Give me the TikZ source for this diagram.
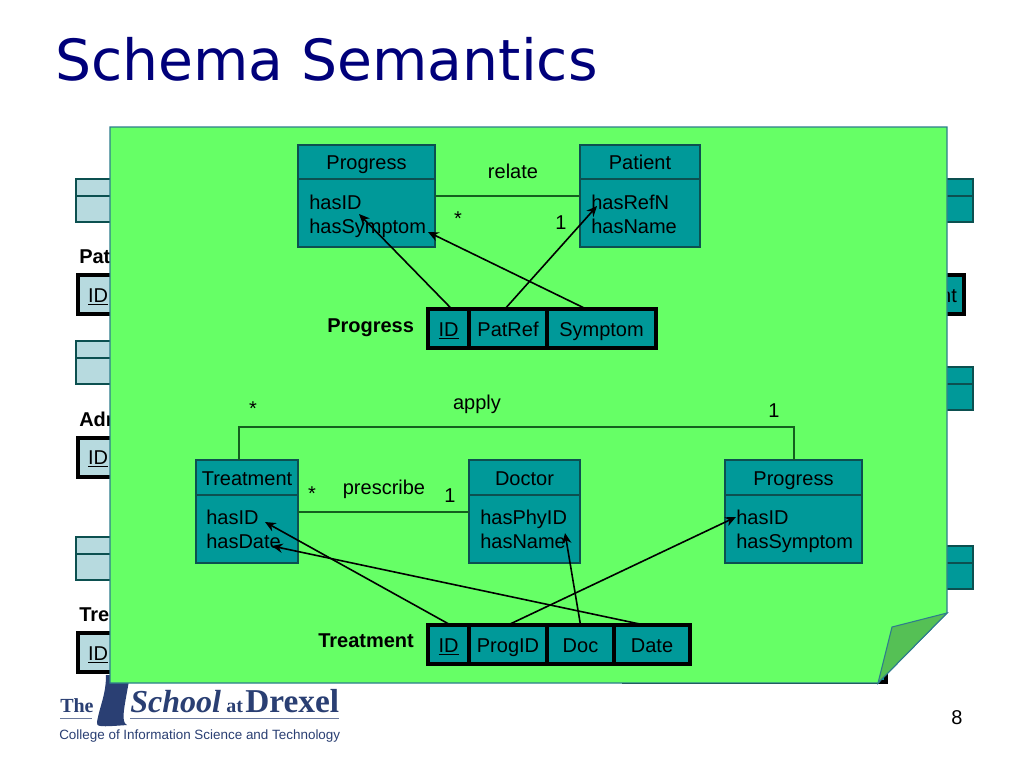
\documentclass[tikz,border=0pt]{standalone}
\usepackage{fontspec}
\setmainfont{Liberation Sans}
\newfontfamily\titlefont{DejaVu Sans}
\newfontfamily\logofont{Liberation Serif}
\usetikzlibrary{arrows.meta, calc}
\definecolor{csheet}{HTML}{66FF66}
\definecolor{cfold}{HTML}{55C055}
\definecolor{cedge}{HTML}{2E7D8C}
\definecolor{cteal}{HTML}{009999}
\definecolor{cpale}{HTML}{B7DADF}
\definecolor{cnavy}{HTML}{00007A}
\definecolor{clogo}{HTML}{2A3F73}
\definecolor{cline}{HTML}{14601E}
\definecolor{cpart}{HTML}{0C5050}
\tikzset{
  every picture/.style={font=\fontsize{15pt}{18pt}\selectfont},
  wd/.style={minimum width=(#1)*0.75pt},
  ht/.style={minimum height=(#1)*0.75pt},
  part/.style={draw=cpart, fill=#1, line width=0.9pt, inner sep=0pt, outer sep=0pt, text height=15*0.75pt, text depth=0pt},
  part/.default=cteal,
  cell/.style={draw=black, fill=#1, line width=3pt, inner sep=0pt, outer sep=0pt, text height=15*0.75pt, text depth=0pt, minimum height=39*0.75pt},
  cell/.default=cteal,
  attr/.style={anchor=base west, inner sep=0pt},
  lab/.style={anchor=base, inner sep=0pt},
  tname/.style={anchor=base west, inner sep=0pt, font=\fontsize{15pt}{18pt}\selectfont\bfseries},
  assoc/.style={draw=cline, line width=0.8pt},
  fk/.style={-{Stealth[length=8pt, width=7pt]}, draw=black, line width=1.2pt},
}
\begin{document}
\begin{tikzpicture}[x=0.75pt, y=-0.75pt]
  \useasboundingbox (0,0) rectangle (1024,768);
  \fill[white] (0,0) rectangle (1024,768);
  \node[anchor=base west, inner sep=0pt, text=cnavy, font=\titlefont\fontsize{42.6pt}{50pt}\selectfont] (title) at (55,80) {Schema Semantics};
  % slide behind the sheet
  \foreach \y/\n in {179/a, 341/b, 537/c} {
    \node[part=cpale, wd=54, ht=17] (lhead\n) at (103,\y+8.5) {};
    \node[part=cpale, wd=54, ht=26] (lbody\n) at (103,\y+30) {};
  }
  \foreach \y/\n in {179/a, 367/b, 546/c} {
    \node[part=cteal, wd=43, ht=17] (rhead\n) at (951.5,\y+8.5) {};
    \node[part=cteal, wd=43, ht=26] (rbody\n) at (951.5,\y+30) {};
  }
  \node[cell=cpale, wd=40] (lidp) at (98,294.5) {\underline{ID}};
  \node[cell=cpale, wd=40] (lida) at (98,457) {\underline{ID}};
  \node[cell=cpale, wd=40] (lidt) at (98,652.5) {\underline{ID}};
  \node[tname] (patlab) at (79,263) {Pat};
  \node[tname] (admlab) at (79,426) {Adr};
  \node[tname] (trelab) at (79,621) {Tre};
  \node[cell=cteal, wd=30] (rcell) at (948.5,294.5) {nt};
  \foreach \a/\b/\n in {624/666/a, 666/738/b, 738/811/c, 811/886/d}
    \node[cell=cteal, wd=\b-\a] (bcell\n) at ({(\a+\b)/2},662.5) {};
  % logo
  \fill[clogo] (106,675) .. controls (106,695) and (100,705) .. (97,722) .. controls (96,727) and (100,727) .. (127,725) .. controls (120,722) and (125,705) .. (130,675) -- cycle;
  \begin{scope}[text=clogo, inner sep=0pt]
    \node[anchor=base west, font=\logofont\bfseries\fontsize{15pt}{18pt}\selectfont] (the) at (60,712) {The};
    \node[anchor=base west, font=\logofont\bfseries\itshape\fontsize{24pt}{28pt}\selectfont] (school) at (130,712) {School};
    \node[anchor=base west, font=\logofont\bfseries\fontsize{15pt}{18pt}\selectfont] (at) at (226,712) {at};
    \node[anchor=base west, font=\logofont\bfseries\fontsize{25pt}{28pt}\selectfont] (drexel) at (245,712) {Drexel};
    \node[anchor=base west, font=\fontsize{10.08pt}{12pt}\selectfont] (college) at (59,739) {College of Information Science and Technology};
  \end{scope}
  \draw[clogo!70, line width=0.6pt] (60,718.5) -- (92,718.5) (130,718.5) -- (339,718.5);
  \node[lab] (pageno) at (957,724) {8};
  % green sheet
  \draw[cedge, fill=csheet, line width=0.8pt] (110,127) -- (947,127) -- (947,613) -- (878,683) -- (110,683) -- cycle;
  \draw[cedge, fill=cfold, line width=0.8pt] (947,613) -- (892,627) -- (878,683) -- cycle;
  % upper classes
  \node[part, wd=137, ht=34] (prohead) at (366.5,162) {Progress};
  \node[part, wd=137, ht=68] (probody) at (366.5,213) {};
  \node[part, wd=120, ht=34] (pathead) at (640,162) {Patient};
  \node[part, wd=120, ht=68] (patbody) at (640,213) {};
  \node[attr] (prohasid) at (309,209) {hasID};
  \node[attr] (prohassym) at (309,233) {hasSymptom};
  \node[attr] (pathasref) at (591,209) {hasRefN};
  \node[attr] (pathasname) at (591,233) {hasName};
  \draw[assoc] (probody.east |- 0,196) -- (patbody.west |- 0,196);
  \node[lab] (relate) at (513,178) {relate};
  \node[lab] (relstar) at (458,225) {*};
  \node[lab] (relone) at (561,229) {1};
  % Progress table
  \node[tname] (protab) at (327,332) {Progress};
  \node[cell, wd=41] (pid) at (448.5,328.5) {\underline{ID}};
  \node[cell, wd=78] (ppatref) at (508,328.5) {PatRef};
  \node[cell, wd=109] (psymptom) at (601.5,328.5) {Symptom\hspace{6.75pt}};
  \coordinate (tipid) at (359,214);
  \coordinate (tipref) at (597,206);
  \coordinate (tipsym) at (428,232);
  \draw[fk] ($(pid.north west)!0.58!(pid.north east)$) -- (tipid);
  \draw[fk] ($(ppatref.north west)!0.46!(ppatref.north east)$) -- (tipref);
  \draw[fk] ($(psymptom.north west)!0.36!(psymptom.north east)$) -- (tipsym);
  % lower classes
  \node[part, wd=102, ht=35] (trehead) at (247,477.5) {Treatment};
  \node[part, wd=102, ht=68] (trebody) at (247,529) {};
  \node[part, wd=111, ht=35] (dochead) at (524.5,477.5) {Doctor};
  \node[part, wd=111, ht=68] (docbody) at (524.5,529) {};
  \node[part, wd=137, ht=35] (proghead) at (793.5,477.5) {Progress};
  \node[part, wd=137, ht=68] (progbody) at (793.5,529) {};
  \node[attr] (trehasid) at (206,524) {hasID};
  \node[attr] (trehasdate) at (206,548) {hasDate};
  \node[attr] (dochasphy) at (480,524) {hasPhyID};
  \node[attr] (dochasname) at (480,548) {hasName};
  \node[attr] (proghasid) at (736,524) {hasID};
  \node[attr] (proghassym) at (736,548) {hasSymptom};
  \draw[assoc] (trebody.east |- 0,512) -- (docbody.west |- 0,512);
  \coordinate (applyl) at (239,427);
  \coordinate (applyr) at (794,427);
  \draw[assoc] (trehead.north -| applyl) -- (applyl) -- (applyr) -- (proghead.north -| applyr);
  \node[lab] (presc) at (384,494) {prescribe};
  \node[lab] (prestar) at (312,500) {*};
  \node[lab] (preone) at (450,502) {1};
  \node[lab] (apply) at (477,409) {apply};
  \node[lab] (appstar) at (253,415) {*};
  \node[lab] (appone) at (774,417) {1};
  % Treatment table
  \node[tname] (tretab) at (318,647) {Treatment};
  \node[cell, wd=41] (tid) at (448.5,644.5) {\underline{ID}};
  \node[cell, wd=78] (tprog) at (508,644.5) {ProgID};
  \node[cell, wd=67] (tdoc) at (580.5,644.5) {Doc\hspace{6pt}};
  \node[cell, wd=76] (tdate) at (652,644.5) {Date};
  \coordinate (tiptid) at (265,522);
  \coordinate (tipprog) at (736,517);
  \coordinate (tipdoc) at (565,533);
  \coordinate (tipdate) at (272,546);
  \draw[fk] ($(tid.north west)!0.55!(tid.north east)$) -- (tiptid);
  \draw[fk] (tprog.north) -- (tipprog);
  \draw[fk] (tdoc.north) -- (tipdoc);
  \draw[fk] ($(tdate.north west)!0.4!(tdate.north east)$) -- (tipdate);
\end{tikzpicture}
\end{document}
